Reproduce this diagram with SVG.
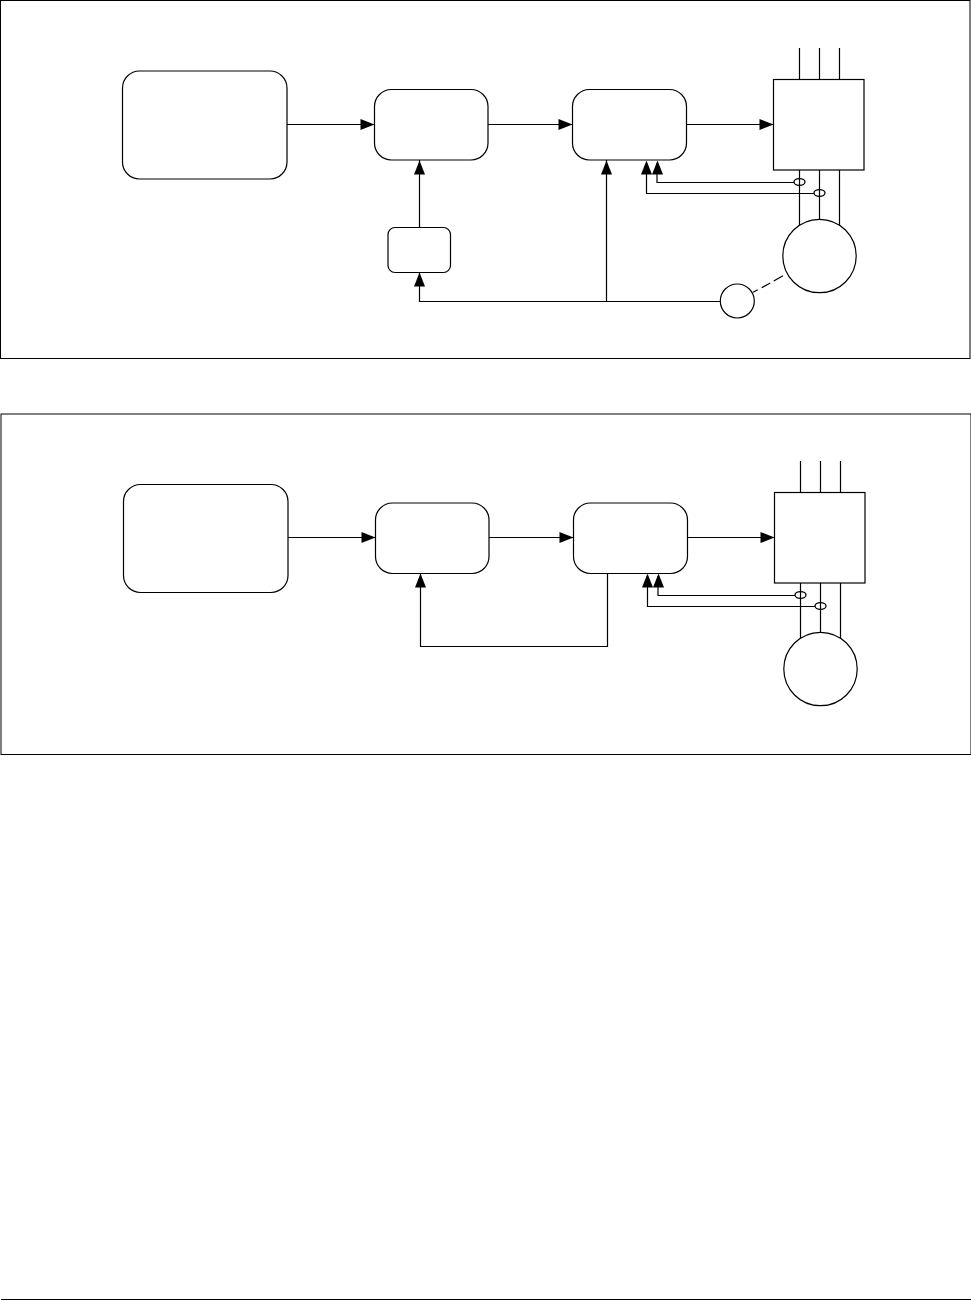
<svg xmlns="http://www.w3.org/2000/svg" width="971" height="1300" viewBox="0 0 971 1300">
<style>
.s{fill:#fff;stroke:#000;stroke-width:1.2}
.c{fill:none;stroke:#000;stroke-width:1.2}
.e{fill:none;stroke:#000;stroke-width:1.3}
.h{fill:#000;stroke:none}
</style>
<defs>
<polygon id="ar" class="h" points="0,0 -14,-5.5 -14,5.5"/>
<polygon id="au" class="h" points="0,0 -5.5,14 5.5,14"/>
</defs>
<rect width="971" height="1300" fill="#fff"/>
<rect x="0.5" y="0.5" width="969.5" height="358" fill="none" stroke="#000" stroke-width="1"/>
<rect x="1" y="414" width="970" height="340.5" fill="none" stroke="#000" stroke-width="1"/>
<line x1="1" y1="1299.5" x2="971" y2="1299.5" stroke="#000" stroke-width="1"/>
<g id="connectors">
<path class="c" d="M287 124.5H374.500M488 124.500H572.500M686.500 124.500H773.500M419.500 227.500V160M419.500 272.500V301.500H720M606.500 301.500V160M657 163V182.500H794M646.500 163V193.500H814M799.500 48V79.500M819.500 48V79.500M839.500 48V79.500M799.500 170V225M819.500 170V219M839.500 170V225"/>
<path class="c" d="M753 292.300L757.700 289.700M761.700 287.700L770.300 283M773.700 281L783 275.700"/>
<use href="#ar" x="374.500" y="124.500"/><use href="#ar" x="572.500" y="124.500"/><use href="#ar" x="773.500" y="124.500"/>
<use href="#au" x="419.500" y="160.500"/><use href="#au" x="419.500" y="272.500"/><use href="#au" x="606.500" y="160.500"/><use href="#au" x="646.500" y="160.500"/><use href="#au" x="657.500" y="160.500"/>
<path class="c" d="M288 537.500H375.500M489 537.500H573.500M687.500 537.500H774.500M607.500 573V646.500H420.500V573M658 576V595.500H795M647.500 576V606.500H815M800.500 461V492.500M820.500 461V492.500M840.500 461V492.500M800.500 583V638M820.500 583V632M840.500 583V638"/>
<use href="#ar" x="375.500" y="537.500"/><use href="#ar" x="573.500" y="537.500"/><use href="#ar" x="774.500" y="537.500"/>
<use href="#au" x="420.500" y="573.500"/><use href="#au" x="647.500" y="573.500"/><use href="#au" x="658.500" y="573.500"/>
</g>
<g id="a-source"><rect class="s" x="122.500" y="71" width="164.500" height="108" rx="17"/></g>
<g id="a-block2"><rect class="s" x="374.500" y="89.500" width="113.500" height="70.500" rx="17"/></g>
<g id="a-block3"><rect class="s" x="572.500" y="89.500" width="114" height="70.500" rx="17"/></g>
<g id="a-block4"><rect class="s" x="773.500" y="79.500" width="90.500" height="90.500"/></g>
<g id="a-small"><rect class="s" x="388" y="227.500" width="62.500" height="45" rx="7"/></g>
<g id="a-motor"><circle class="s" cx="819.500" cy="256" r="36.700"/></g>
<g id="a-sensor"><circle class="s" cx="737.300" cy="301" r="17"/></g>
<g id="a-ct1"><ellipse class="e" cx="799.500" cy="182" rx="5.500" ry="3.300"/></g>
<g id="a-ct2"><ellipse class="e" cx="819.500" cy="193" rx="5.500" ry="3.300"/></g>
<g id="b-source"><rect class="s" x="123.500" y="484.500" width="164.500" height="108" rx="17"/></g>
<g id="b-block2"><rect class="s" x="375.500" y="503" width="113.500" height="70.500" rx="17"/></g>
<g id="b-block3"><rect class="s" x="573.500" y="503" width="114" height="70.500" rx="17"/></g>
<g id="b-block4"><rect class="s" x="774.500" y="492.500" width="90.500" height="90.500"/></g>
<g id="b-motor"><circle class="s" cx="820.500" cy="669" r="36.700"/></g>
<g id="b-ct1"><ellipse class="e" cx="800.500" cy="595" rx="5.500" ry="3.300"/></g>
<g id="b-ct2"><ellipse class="e" cx="820.500" cy="606" rx="5.500" ry="3.300"/></g>
</svg>
